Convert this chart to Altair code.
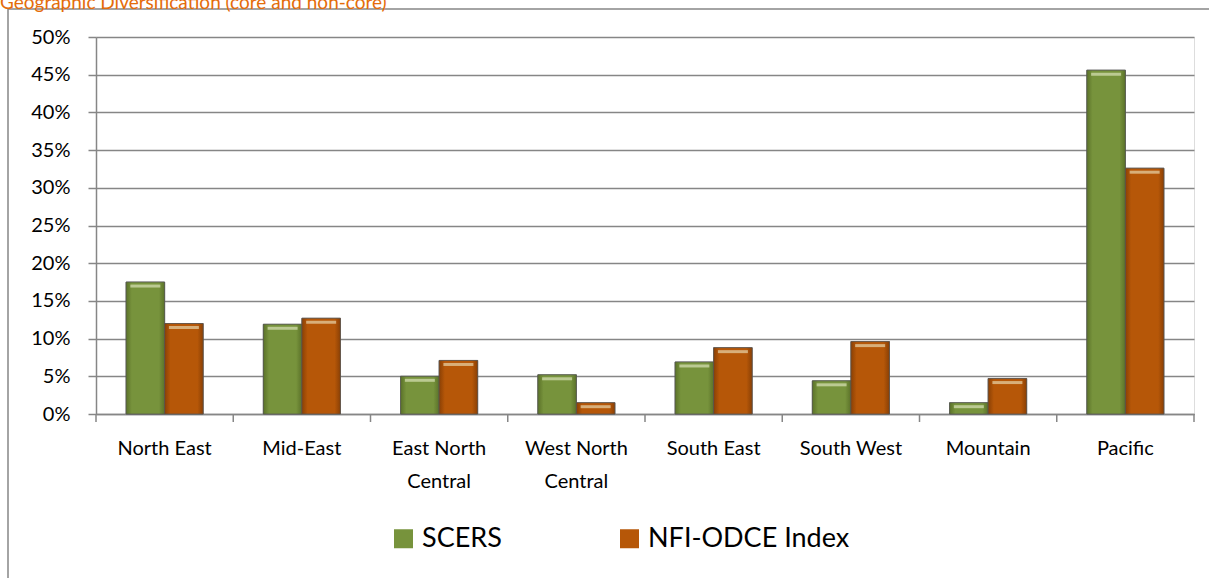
import altair as alt
import pandas as pd

# Regional allocation (% of portfolio)
regions = ["North East", "Mid-East", "East North Central", "West North Central",
           "South East", "South West", "Mountain", "Pacific"]
scers = [17.5, 11.9, 5.0, 5.2, 6.9, 4.4, 1.5, 45.6]
nfi_odce = [12.0, 12.7, 7.1, 1.5, 8.8, 9.6, 4.7, 32.6]
series = ["SCERS", "NFI-ODCE Index"]
colors = ["#77933C", "#B65708"]
edge_colors = ["#5B7229", "#8A4005"]
y_ticks = list(range(0, 51, 5))
title_text = "Geographic Diversification (core and non-core)"

rows = []
for r, a, b in zip(regions, scers, nfi_odce):
    rows.append({"region": r, "series": series[0], "value": a})
    rows.append({"region": r, "series": series[1], "value": b})
df = pd.DataFrame(rows)

W, H = 1098, 377
FONT = "Lato"
GRID = "#868686"

x_axis = alt.Axis(
    ticks=False, domain=True, domainColor=GRID, domainWidth=1.5,
    labelAngle=0, labelFont=FONT, labelFontSize=20, labelColor="#000000",
    labelPadding=24, labelLineHeight=33, labelBaseline="top",
    labelOverlap=False,
    labelExpr="indexof(datum.value, ' Central') > 0 ? "
              "[replace(datum.value, ' Central', ''), 'Central'] : datum.value",
)
y_axis = alt.Axis(values=y_ticks, tickCount=11, labelExpr="datum.value + '%'",
                  labelOverlap=False, labelFlush=False,
                  grid=True, gridColor=GRID, gridWidth=1.5,
                  domainColor=GRID, domainWidth=1.5,
                  tickColor=GRID, tickWidth=1.5, tickSize=8,
                  labelFont=FONT, labelFontSize=20, labelColor="#000000",
                  labelPadding=18)
x_scale = alt.Scale(paddingInner=0, paddingOuter=0)
y_scale = alt.Scale(domain=[0, 50], nice=False)
off_scale = alt.Scale(paddingInner=0, paddingOuter=0.78)

x_enc = alt.X("region:N", sort=regions, title=None, scale=x_scale, axis=x_axis)
y_enc = alt.Y("value:Q", scale=y_scale, title=None, axis=y_axis)
off_enc = alt.XOffset("series:N", sort=series, scale=off_scale)

bars = alt.Chart(df).mark_bar(stroke="#555555", strokeWidth=1, strokeOpacity=0.7).encode(
    x=x_enc, xOffset=off_enc, y=y_enc,
    color=alt.Color("series:N", sort=series,
                    scale=alt.Scale(domain=series, range=colors),
                    legend=alt.Legend(title=None, orient="none", direction="horizontal",
                                      legendX=294, legendY=488, padding=0,
                                      symbolType="square", symbolSize=361,
                                      symbolStrokeWidth=0, symbolOpacity=1,
                                      labelFont=FONT, labelFontSize=27,
                                      labelColor="#000000", labelOffset=5,
                                      labelLimit=400, columnPadding=114)),
)


def shaded(name, base, edge):
    # horizontal shading: darker at the sides of each bar
    grad = alt.Gradient(
        gradient="linear", x1=0, x2=1, y1=0, y2=0,
        stops=[alt.GradientStop(color=edge, offset=0),
               alt.GradientStop(color=base, offset=0.15),
               alt.GradientStop(color=base, offset=0.85),
               alt.GradientStop(color=edge, offset=1)],
    )
    return alt.Chart(df).transform_filter(alt.datum.series == name).mark_bar(
        fill=grad, stroke="#555555", strokeWidth=1, strokeOpacity=0.7
    ).encode(x=x_enc, xOffset=off_enc, y=y_enc)


shade_layers = [shaded(s, c, e) for s, c, e in zip(series, colors, edge_colors)]

# top bevel highlight on each bar
highlight = alt.Chart(df).mark_tick(orient="horizontal", thickness=3, size=30,
                                    yOffset=4, opacity=0.55, color="#F4F8D8").encode(
    x=x_enc, xOffset=off_enc, y=y_enc,
)

reg_df = pd.DataFrame({"region": regions})
ticks_left = alt.Chart(reg_df).mark_rule(color=GRID, strokeWidth=1.5).encode(
    x=alt.X("region:N", sort=regions, bandPosition=0, title=None, scale=x_scale, axis=x_axis),
    y=alt.value(H), y2=alt.value(H + 8),
)
ticks_right = alt.Chart(reg_df.tail(1)).mark_rule(color=GRID, strokeWidth=1.5).encode(
    x=alt.X("region:N", sort=regions, bandPosition=1, title=None, scale=x_scale, axis=x_axis),
    y=alt.value(H), y2=alt.value(H + 8),
)

# outer frame (left and top edges)
frame_left = alt.Chart(reg_df.head(1)).mark_rule(color=GRID, strokeWidth=1.5).encode(
    x=alt.value(-88), y=alt.value(-28), y2=alt.value(H + 200))
frame_top = alt.Chart(reg_df.head(1)).mark_rule(color=GRID, strokeWidth=1.5).encode(
    x=alt.value(-88), x2=alt.value(W + 200), y=alt.value(-28))

title = alt.Chart(pd.DataFrame({"t": [title_text]})).mark_text(
    align="left", baseline="alphabetic", font=FONT, fontSize=19, color="#E46C0A"
).encode(text="t:N", x=alt.value(-96), y=alt.value(-28))

chart = alt.layer(bars, *shade_layers, highlight, ticks_left, ticks_right,
                  frame_left, frame_top, title).properties(
    width=W, height=H,
    autosize=alt.AutoSizeParams(type="none"),
    padding={"left": 96, "top": 37, "right": 15, "bottom": 164},
).configure_view(stroke=None).configure(background="#FFFFFF")

chart.save("out.html", embed_options={"renderer": "svg", "actions": False})
